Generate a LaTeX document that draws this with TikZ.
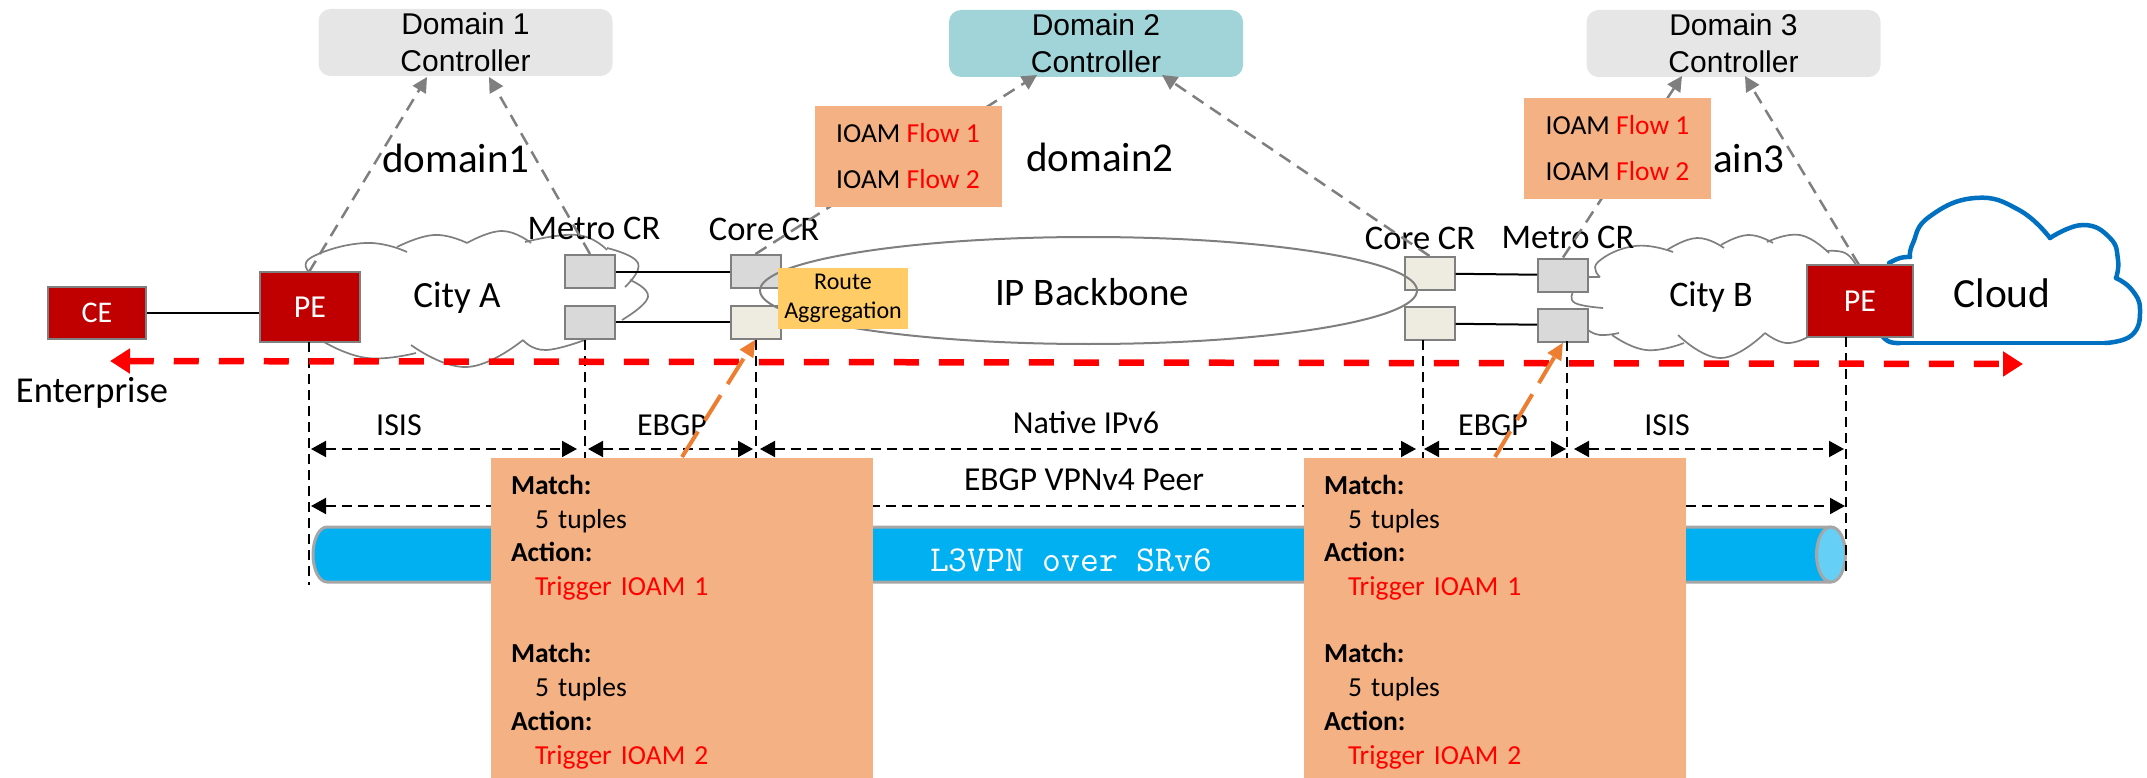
\documentclass[tikz,border=0pt]{standalone}
\usepackage{fontspec}
\setmainfont{Carlito}
\newfontfamily\ctrlfont{Liberation Sans}
\usetikzlibrary{arrows.meta}
\usetikzlibrary{positioning}
\usetikzlibrary{shapes.geometric}

\definecolor{pered}{HTML}{C00000}
\definecolor{ctrlgray}{HTML}{E7E6E6}
\definecolor{ctrlteal}{HTML}{A0D4D8}
\definecolor{squaregray}{HTML}{D9D9D9}
\definecolor{squarebeige}{HTML}{EEECE1}
\definecolor{linegray}{HTML}{7F7F7F}
\definecolor{salmon}{HTML}{F4B183}
\definecolor{routeyellow}{HTML}{FFCC66}
\definecolor{tubeblue}{HTML}{00B0F0}
\definecolor{tubeend}{HTML}{66CFF6}
\definecolor{tubeedge}{HTML}{A6A6A6}
\definecolor{cloudblue}{HTML}{0070C0}
\definecolor{tiporange}{HTML}{ED7D31}

\tikzset{
    controller/.style = {rounded corners = 12pt, minimum width = 294pt, minimum height = 67pt, inner sep = 0pt, align = center, font = \ctrlfont\fontsize{30}{37}\selectfont},
    router/.style = {draw = linegray, line width = 2pt, fill = pered, text = white, inner sep = 0pt, font = \fontsize{32}{36}\selectfont},
    square/.style = {draw = linegray, line width = 2pt, fill = squaregray, inner sep = 0pt, minimum width = 50pt, minimum height = 33pt},
    beige/.style = {fill = squarebeige},
    flowbox/.style = {fill = salmon, inner sep = 0pt, minimum width = 187pt, minimum height = 101pt, align = center, font = \fontsize{27.5}{46}\selectfont},
    matchbox/.style = {fill = salmon, inner sep = 0pt, minimum width = 382pt, minimum height = 328pt, text width = 342pt, align = left, font = \fontsize{27.5}{33.7}\selectfont},
    crlabel/.style = {font = \fontsize{34.5}{38}\selectfont},
    dimlabel/.style = {font = \fontsize{32}{36}\selectfont},
    grayarrow/.style = {draw = linegray, line width = 2.5pt, dash pattern = on 13pt off 8pt, -{Triangle[length = 15pt, width = 15pt]}},
    orangearrow/.style = {draw = tiporange, line width = 4pt, dash pattern = on 30pt off 13pt, -{Triangle[length = 17pt, width = 15pt]}},
    dimline/.style = {line width = 2pt, dash pattern = on 10pt off 6pt},
    dimarrow/.style = {dimline, {Triangle[length = 15pt, width = 16pt]}-{Triangle[length = 15pt, width = 16pt]}},
    cityline/.style = {draw = linegray, line width = 1.7pt},
    cloudline/.style = {draw = cloudblue, line width = 4.5pt, line cap = round}
}

\newcommand{\lobe}[2][cityline]{\draw[#1] plot[smooth, tension = 0.8] coordinates {#2};}
\newcommand{\redtext}[1]{\textcolor{red}{#1}}

\begin{document}
\begin{tikzpicture}[x = 1pt, y = -1pt, line width = 2pt]

    \useasboundingbox (0,0) rectangle (2147,778);

    % City A
    \lobe{(309,272) (312,257) (365,243) (407,252)}
    \lobe{(397,247) (434,235) (467,243)}
    \lobe{(467,243) (502,231) (531,243)}
    \lobe{(525,242) (577,235) (607,250)}
    \lobe{(607,248) (638,263) (625,287)}
    \lobe{(630,280) (648,297) (622,320)}
    \lobe{(590,338) (546,350) (523,340)}
    \lobe{(523,340) (467,367) (411,345)}
    \lobe{(416,353) (367,358) (324,342)}

    % City B
    \lobe{(1588,277) (1600,277)}
    \lobe{(1600,277) (1598,262) (1635,246) (1673,252)}
    \lobe{(1667,250) (1697,238) (1724,248)}
    \lobe{(1721,245) (1748,235) (1773,243)}
    \lobe{(1767,242) (1800,235) (1829,253)}
    \lobe{(1827,251) (1845,253) (1856,265)}
    \lobe{(1808,337) (1786,343) (1765,333)}
    \lobe{(1765,333) (1721,358) (1678,335)}
    \lobe{(1684,343) (1646,350) (1612,335)}
    \lobe{(1619,333) (1600,335) (1588,330)}
    \lobe{(1603,308) (1575,303) (1573,292)}

    % Cloud
    \lobe[cloudline]{(1889,263) (1900,258) (1910,257)}
    \lobe[cloudline]{(1910,257) (1913,243) (1929,217) (1975,198) (2019,210) (2050,238)}
    \lobe[cloudline]{(2050,238) (2083,225) (2110,238) (2118,260) (2116,278)}
    \lobe[cloudline]{(2116,278) (2132,290) (2140,310) (2132,335) (2105,343)}
    \draw[cloudline] (2105,343) -- (1900,343);
    \lobe[cloudline]{(1900,343) (1890,342) (1883,337)}

    \node (cloudlabel) at (2002,293) [font = \fontsize{41.5}{44}\selectfont] {Cloud};
    \node (cityA) at (457,298) [font = \fontsize{37}{40}\selectfont] {City A};
    \node (cityB) at (1711,297) [font = \fontsize{36}{40}\selectfont] {City B};

    % controllers
    \node (ctrlA) at (465.5,42.5) [controller, fill = ctrlgray] {Domain 1\\Controller};
    \node (ctrlB) at (1096,43.5) [controller, fill = ctrlteal] {Domain 2\\Controller};
    \node (ctrlC) at (1733.5,43.5) [controller, fill = ctrlgray] {Domain 3\\Controller};

    \node (domainA) at (456,158) [font = \fontsize{41}{44}\selectfont] {domain1};
    \node (domainB) at (1100,157) [font = \fontsize{41}{44}\selectfont] {domain2};
    \node (domainC) at (1711,158) [font = \fontsize{41}{44}\selectfont] {domain3};

    % routers
    \node (ce) at (97,313) [router, minimum width = 98pt, minimum height = 52pt, font = \fontsize{30}{34}\selectfont] {CE};
    \node (peA) at (310,307) [router, minimum width = 100pt, minimum height = 70pt] {PE};
    \node (peB) at (1860,301) [router, minimum width = 106pt, minimum height = 72pt] {PE};

    \begin{scope}[on grid]
        \node (metroAt) at (590,271.5) [square] {};
        \node (metroAb) [square, below = 50.5pt of metroAt] {};
        \node (coreAt) at (755.5,271.5) [square] {};
        \node (coreAb) [square, beige, below = 50.5pt of coreAt] {};

        \node (coreBt) at (1429.5,273.5) [square, beige] {};
        \node (coreBb) [square, beige, below = 50pt of coreBt] {};
        \node (metroBt) at (1563,275) [square] {};
        \node (metroBb) [square, below = 50pt of metroBt] {};
    \end{scope}

    \draw (ce) -- (ce -| peA.west);
    \draw (metroAt) -- (coreAt);
    \draw (metroAb) -- (coreAb);
    \draw (coreBt) -- (metroBt);
    \draw (coreBb) -- (metroBb);

    \node (labelMetroA) at (594,228) [crlabel] {Metro CR};
    \node (labelCoreA) at (764,229) [crlabel] {Core CR};
    \node (labelCoreB) at (1420,238) [crlabel] {Core CR};
    \node (labelMetroB) at (1568,237) [crlabel] {Metro CR};

    % backbone
    \node (backbone) at (1088.5,290.5) [ellipse, draw = linegray, line width = 2pt, minimum width = 657pt, minimum height = 107pt, inner sep = 0pt] {};
    \node (backboneLabel) at (1092,292) [font = \fontsize{39}{42}\selectfont] {IP Backbone};
    \node (aggregation) at (843,298.5) [fill = routeyellow, minimum width = 130pt, minimum height = 61pt, inner sep = 0pt, align = center, font = \fontsize{24}{29}\selectfont] {Route\\Aggregation};

    % gray report lines
    \draw[grayarrow] (309,272) -- (427,77);
    \draw[grayarrow] (metroAt.north) -- (489,77);
    \draw[grayarrow] (coreAt.north) -- (1037,75);
    \draw[grayarrow] (coreBt.north) -- (1162,75);
    \draw[grayarrow] (metroBt.north) -- (1682,76);
    \draw[grayarrow] (1859,265) -- (1745,76);

    \node (flowA) at (908,156.5) [flowbox] {IOAM \redtext{Flow 1}\\IOAM \redtext{Flow 2}};
    \node (flowB) at (1617.5,148.5) [flowbox] {IOAM \redtext{Flow 1}\\IOAM \redtext{Flow 2}};

    \coordinate (peAdrop) at (309,342);
    \coordinate (metroAdrop) at (585,340);
    \coordinate (coreAdrop) at (756,340);
    \coordinate (coreBdrop) at (1423,340);
    \coordinate (metroBdrop) at (1567,341);
    \coordinate (peBdrop) at (1846,337);

    % tube
    \draw[draw = tubeedge, line width = 3pt, fill = tubeblue] (1831,527) -- (327,527) arc[start angle = 90, end angle = 270, x radius = 14pt, y radius = 27.5pt] -- (1831,582);
    \node (tubeEnd) at (1831,554.5) [ellipse, draw = tubeedge, line width = 3pt, fill = tubeend, minimum width = 29pt, minimum height = 55pt, inner sep = 0pt] {};
    \node (tubeLabel) at (1071,560) [text = white, font = \ttfamily\fontsize{36.5}{40}\selectfont] {L3VPN over SRv6};

    % drops and spans
    \draw[dimline] (peAdrop) -- (309,585);
    \draw[dimline] (metroAdrop) -- (585,458);
    \draw[dimline] (coreAdrop) -- (756,458);
    \draw[dimline] (coreBdrop) -- (1423,458);
    \draw[dimline] (metroBdrop) -- (1567,458);
    \draw[dimline] (peBdrop) -- (1846,575);

    \draw[dimarrow] (311,449) -- (577,449);
    \draw[dimarrow] (588,449) -- (753,449);
    \draw[dimarrow] (760,449) -- (1416,449);
    \draw[dimarrow] (1424,449) -- (1566,449);
    \draw[dimarrow] (1574,449) -- (1844,449);
    \draw[dimarrow] (311,506) -- (1845,506);

    \node (isisA) at (399,425) [dimlabel] {ISIS};
    \node (ebgpA) at (672,425) [dimlabel] {EBGP};
    \node (native) at (1086,423) [dimlabel] {Native IPv6};
    \node (ebgpB) at (1493,425) [dimlabel] {EBGP};
    \node (isisB) at (1667,425) [dimlabel] {ISIS};
    \node (peer) at (1084,480) [dimlabel, font = \fontsize{33.5}{36}\selectfont] {EBGP VPNv4 Peer};

    % flow direction
    \coordinate (flowLeft) at (110,361);
    \coordinate (flowRight) at (2023,364);
    \draw[draw = red, line width = 6.5pt, dash pattern = on 25pt off 20pt, {Triangle[length = 20pt, width = 24pt]}-{Triangle[length = 20pt, width = 24pt]}] (flowLeft) -- (flowRight);
    \node (enterprise) at (92,393) [font = \fontsize{36.5}{40}\selectfont] {Enterprise};

    % match boxes
    \node (matchA) at (682,622) [matchbox] {\textbf{Match:}\\\hspace*{24pt}5 tuples\\\textbf{Action:}\\\hspace*{24pt}\redtext{Trigger IOAM 1}\\\mbox{}\\\textbf{Match:}\\\hspace*{24pt}5 tuples\\\textbf{Action:}\\\hspace*{24pt}\redtext{Trigger IOAM 2}};
    \node (matchB) at (1495,622) [matchbox] {\textbf{Match:}\\\hspace*{24pt}5 tuples\\\textbf{Action:}\\\hspace*{24pt}\redtext{Trigger IOAM 1}\\\mbox{}\\\textbf{Match:}\\\hspace*{24pt}5 tuples\\\textbf{Action:}\\\hspace*{24pt}\redtext{Trigger IOAM 2}};

    \draw[orangearrow] (matchA.north) -- (coreAb.south);
    \draw[orangearrow] (matchB.north) -- (metroBb.south);

\end{tikzpicture}
\end{document}
